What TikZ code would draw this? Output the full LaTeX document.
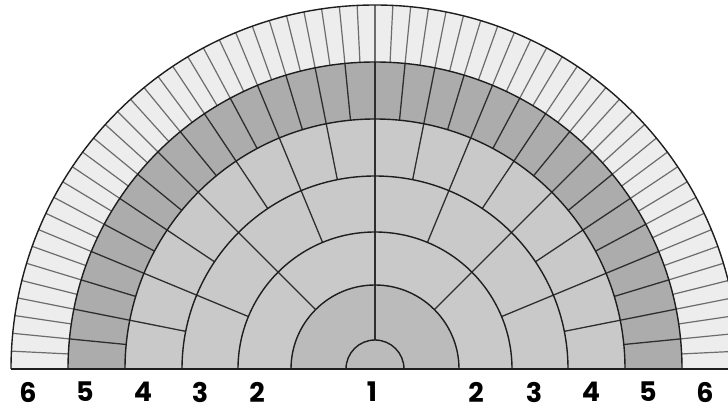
\documentclass[tikz,border=0pt]{standalone}
\usepackage{fontspec}
\newfontfamily\labfont{Poppins}
\definecolor{ringA}{HTML}{BBBBBB}
\definecolor{ringB}{HTML}{C9C9C9}
\definecolor{ringC}{HTML}{ACACAC}
\definecolor{ringD}{HTML}{EDEDED}
\definecolor{lineDark}{HTML}{1E1E1E}
\definecolor{lineMid}{HTML}{2E2E2E}
\definecolor{lineLight}{HTML}{6C6C6C}
\tikzset{
  ringline/.style={draw=lineDark, line width=1.4pt},
  radline/.style={draw=lineMid, line width=1.3pt},
  outline/.style={draw=lineLight, line width=1.2pt},
  numlabel/.style={font=\labfont\bfseries\fontsize{27}{27}\selectfont, text=black, inner sep=0pt, anchor=center}
}
\begin{document}
\begin{tikzpicture}[x=1pt,y=1pt]
\useasboundingbox (0,0) rectangle (728,407);
\begin{scope}
\clip (0,0) rectangle (728,407);
\coordinate (O) at (375,38);
% inner semicircle
\fill[ringA] ([shift={(0:29pt)}]O) arc (0:180:29pt) -- cycle;
% ring fills
\foreach \ri/\ro/\c in {29/84/ringA,84/137/ringB,137/193/ringB,193/250/ringB,250/307/ringC,307/364/ringD} {
  \fill[\c] ([shift={(0:\ro pt)}]O) arc (0:180:\ro pt) -- ([shift={(180:\ri pt)}]O) arc (180:0:\ri pt) -- cycle;
}
% radial divisions of inner rings
\foreach \ri/\ro/\n in {29/84/2,84/137/4,137/193/8,193/250/16,250/307/32} {
  \pgfmathtruncatemacro\m{\n-1}
  \foreach \k in {1,...,\m} {
    \pgfmathsetmacro\a{\k*180/\n}
    \draw[radline] ([shift={(\a:\ri pt)}]O) -- ([shift={(\a:\ro pt)}]O);
  }
}
% radial divisions of outer ring
\foreach \k in {1,...,63} {
  \pgfmathsetmacro\a{\k*180/64}
  \draw[outline] ([shift={(\a:307pt)}]O) -- ([shift={(\a:364pt)}]O);
}
% ring boundaries
\foreach \r in {29,84,137,193,250,307,364} {
  \draw[ringline] ([shift={(0:\r pt)}]O) arc (0:180:\r pt);
}
% baseline
\draw[ringline, line width=1.6pt] ([shift={(180:364pt)}]O) -- ([shift={(0:364pt)}]O);
\end{scope}
% labels
\node[numlabel] (l6a) at (28,15) {6};
\node[numlabel] (l5a) at (85,15) {5};
\node[numlabel] (l4a) at (143,15) {4};
\node[numlabel] (l3a) at (200,15) {3};
\node[numlabel] (l2a) at (257,15) {2};
\node[numlabel] (l1) at (372,15) {1};
\node[numlabel] (l2b) at (476,15) {2};
\node[numlabel] (l3b) at (534,15) {3};
\node[numlabel] (l4b) at (591,15) {4};
\node[numlabel] (l5b) at (648,15) {5};
\node[numlabel] (l6b) at (705,15) {6};
\end{tikzpicture}
\end{document}
